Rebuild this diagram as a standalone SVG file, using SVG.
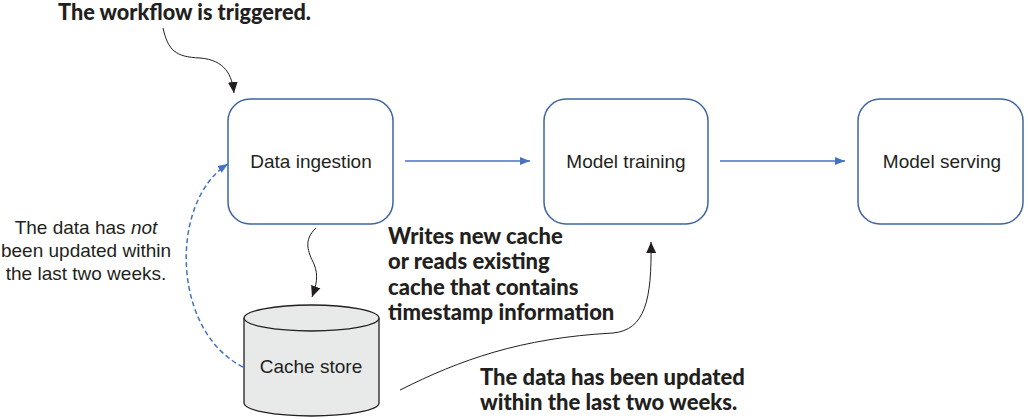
<svg xmlns="http://www.w3.org/2000/svg" width="1028" height="419" viewBox="0 0 1028 419">
<defs>
<style>
.box{fill:#fff;stroke:#3f64a0;stroke-width:1.5}
.lbl{font-family:"Liberation Sans",Arial,sans-serif;font-size:19px;fill:#231f20;text-anchor:middle}
.ann{font-family:Lato,"Liberation Sans",sans-serif;font-weight:900;font-size:22px;fill:#231f20}
.blue{fill:none;stroke:#4472c4;stroke-width:1.5}
.black{fill:none;stroke:#231f20;stroke-width:1}
</style>
<marker id="ab" viewBox="0 0 10 10" refX="10" refY="5" markerWidth="10" markerHeight="10" markerUnits="userSpaceOnUse" orient="auto"><path d="M0,1 L10,5 L0,9 Z" fill="#4472c4"/></marker>
<marker id="ak" viewBox="0 0 10 10" refX="10" refY="5" markerWidth="11" markerHeight="11" markerUnits="userSpaceOnUse" orient="auto"><path d="M0,0.5 L10,5 L0,9.5 Z" fill="#231f20"/></marker>
</defs>
<g id="connectors">
<path class="blue" d="M405,161 L530,161" marker-end="url(#ab)"/>
<path class="blue" d="M720,161 L845,161" marker-end="url(#ab)"/>
<path class="blue" d="M243,367 C170,330 170,200 228,164" stroke-dasharray="5,3" marker-end="url(#ab)"/>
<path class="black" d="M163,28 C168,50 175,57 200,58 C225,60 232,75 234,93" marker-end="url(#ak)"/>
<path class="black" d="M316,228 C303,240 308,252 314,264 C319,276 316,286 312,297" marker-end="url(#ak)"/>
<path class="black" d="M400,390 C460,360 520,338 613,333 C645,330 652,300 651,242" marker-end="url(#ak)"/>
</g>
<g id="data-ingestion"><rect class="box" x="228" y="99" width="165" height="125" rx="22"/><text class="lbl" x="311" y="168">Data ingestion</text></g>
<g id="model-training"><rect class="box" x="544" y="99" width="164" height="125" rx="22"/><text class="lbl" x="626" y="168">Model training</text></g>
<g id="model-serving"><rect class="box" x="858" y="99" width="165" height="125" rx="22"/><text class="lbl" x="942" y="168">Model serving</text></g>
<g id="cache-store">
<path d="M244,318 L244,403 A67.5,13 0 0 0 379,403 L379,318" fill="#e8e9e9" stroke="#231f20" stroke-width="1.3"/>
<ellipse cx="311.5" cy="318" rx="67.5" ry="13" fill="#e8e9e9" stroke="#231f20" stroke-width="1.3"/>
<text class="lbl" x="311" y="373">Cache store</text>
</g>
<g id="annotations">
<text class="ann" x="58" y="20" font-size="21" textLength="253" lengthAdjust="spacingAndGlyphs">The workflow is triggered.</text>
<text class="lbl"><tspan x="86" y="234">The data has <tspan font-style="italic">not</tspan></tspan><tspan x="86" y="257">been updated within</tspan><tspan x="86" y="280">the last two weeks.</tspan></text>
<text class="ann"><tspan x="388" y="244">Writes new cache</tspan><tspan x="388" y="269">or reads existing</tspan><tspan x="388" y="295">cache that contains</tspan><tspan x="388" y="320">timestamp information</tspan></text>
<text class="ann"><tspan x="480" y="385">The data has been updated</tspan><tspan x="480" y="410">within the last two weeks.</tspan></text>
</g>
</svg>
